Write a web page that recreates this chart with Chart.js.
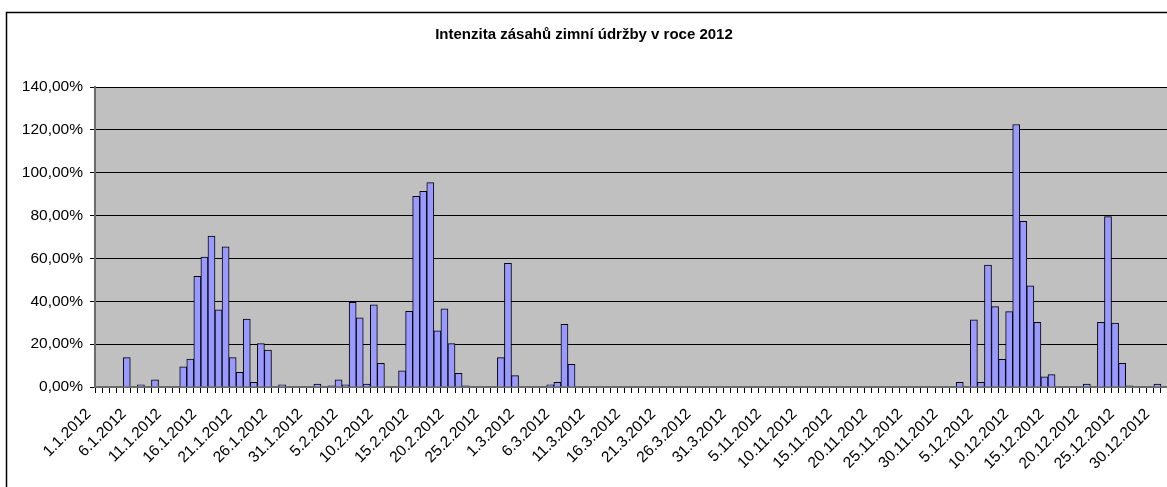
<!DOCTYPE html>
<html>
<head>
<meta charset="utf-8">
<script src="https://cdn.jsdelivr.net/npm/chart.js@4.4.1/dist/chart.umd.min.js"></script>
<style>
html,body{margin:0;padding:0;background:#fff;overflow:hidden;}
#wrap{width:1167px;height:487px;overflow:hidden;position:relative;}
canvas{display:block;}
</style>
</head>
<body>
<div id="wrap"><canvas id="c" width="1180" height="487"></canvas></div>
<script>
// ---- Data (values in %) ----
const TITLE = 'Intenzita zásahů zimní údržby v roce 2012';
const YEAR = 2012;
const monthNumbers = [1, 2, 3, 11, 12];
const monthLengths = [31, 29, 31, 30, 31];

const janValues = [0,0,0,0,13.7,0,1.0,0,3.3,0,0,0,9.4,13.0,51.7,60.6,70.4,36.0,65.4,13.7,6.9,31.7,2.2,20.3,17.2,0,1.0,0,0,0,0];
const febValues = [1.4,0,0.5,3.3,1.0,39.5,32.3,1.4,38.3,11.1,0,0,7.5,35.3,89.0,91.3,95.4,26.2,36.5,20.3,6.4,0.5,0,0,0,0,13.7,57.7,5.3];
const marValues = [0,0,0,0,1.0,2.2,29.3,10.6,0,0,0,0,0,0,0,0,0,0,0,0,0,0,0,0,0,0,0,0,0,0,0];
const novValues = [0,0,0,0,0,0,0,0,0,0,0,0,0,0,0,0,0,0,0,0,0,0,0,0,0,0,0,0,0,0];
const decValues = [0,2.2,0,31.3,2.2,56.9,37.5,12.9,35.2,122.5,77.3,47.2,30.2,4.7,5.8,0,0,0,0,1.4,0,30.2,79.5,29.8,11.1,0.5,0,0,0,1.4,0];

const yTicks = [0, 20, 40, 60, 80, 100, 120, 140];
const LABEL_EVERY = 5;

// ---- Build categories ----
const categories = [];
monthNumbers.forEach((m, k) => {
  for (let d = 1; d <= monthLengths[k]; d++) categories.push(d + '.' + m + '.' + YEAR);
});
const values = [].concat(janValues, febValues, marValues, novValues, decValues);

const FONT = "'Liberation Sans', Arial, sans-serif";

const frame = {
  id: 'frame',
  beforeDraw(chart) {
    const c = chart.ctx, a = chart.chartArea;
    c.save();
    c.fillStyle = '#ffffff';
    c.fillRect(0, 0, chart.width, chart.height);
    c.fillStyle = '#C0C0C0';
    c.fillRect(a.left, a.top, a.right - a.left, a.bottom - a.top);
    c.strokeStyle = '#000';
    c.lineWidth = 1.5;
    c.beginPath();
    c.moveTo(6.5, chart.height + 5);
    c.lineTo(6.5, 12.5);
    c.lineTo(chart.width + 5, 12.5);
    c.stroke();
    c.restore();
  }
};

new Chart(document.getElementById('c'), {
  type: 'bar',
  data: {
    labels: categories,
    datasets: [{
      data: values,
      backgroundColor: '#9999FF',
      borderColor: '#000000',
      borderWidth: 1,
      borderSkipped: 'start',
      barPercentage: 1,
      categoryPercentage: 1
    }]
  },
  options: {
    responsive: false,
    animation: false,
    devicePixelRatio: 1,
    layout: { padding: { left: 0, right: 12, top: 12, bottom: 0 } },
    plugins: {
      legend: { display: false },
      tooltip: { enabled: false },
      title: {
        display: true,
        text: TITLE,
        color: '#000',
        font: { family: FONT, size: 15, weight: 'bold', lineHeight: 1.2 },
        padding: { top: 14, bottom: 43 }
      }
    },
    scales: {
      x: {
        offset: true,
        grid: { display: true, drawOnChartArea: false, drawTicks: true, tickLength: 6, color: '#000', offset: true },
        border: { display: true, color: '#6b6b6b', width: 2 },
        ticks: {
          autoSkip: false,
          minRotation: 45,
          maxRotation: 45,
          color: '#000',
          padding: 12,
          labelOffset: -10,
          font: { family: FONT, size: 15.5 },
          callback: (v, i) => (i % LABEL_EVERY === 0 ? categories[i] : '')
        },
        afterFit: s => { s.height = 100; s.paddingLeft = 0; s.paddingRight = 0; }
      },
      y: {
        min: 0,
        max: 140,
        afterBuildTicks: s => { s.ticks = yTicks.map(v => ({ value: v })); },
        grid: { color: '#000', lineWidth: 1, drawTicks: true, tickLength: 5 },
        border: { display: true, color: '#6b6b6b', width: 2 },
        ticks: {
          color: '#000',
          padding: 7,
          font: { family: FONT, size: 15.5 },
          callback: v => v.toFixed(2).replace('.', ',') + '%'
        },
        afterFit: s => { s.width = 95; }
      }
    }
  },
  plugins: [frame]
});
</script>
</body>
</html>
